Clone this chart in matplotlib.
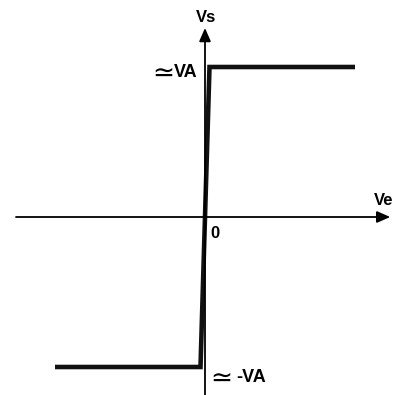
"""
Transfer characteristic Vs = f(Ve) of a comparator (saturates at about +/-VA).
"""

import matplotlib
matplotlib.use('Agg')
import matplotlib.pyplot as plt

plt.rcParams['font.family'] = ['Liberation Sans', 'DejaVu Sans']

# saturation level and characteristic points (Ve, Vs)
VA = 1.0
ve = [-1.0, -0.03, 0.03, 1.0]
vs = [-VA, -VA, VA, VA]

# axis extents
x_axis = (-1.26, 1.235)
y_axis = (-1.25, 1.26)


def main():
    fig = plt.figure(figsize=(3.95, 3.95), dpi=100)
    ax = fig.add_axes([0, 0, 1, 1])
    ax.set_xlim(-205 / 150, 190 / 150)
    ax.set_ylim(-178 / 150, 217 / 150)
    ax.axis('off')

    # --- axes with arrows ---
    arrow = dict(arrowstyle='-|>,head_length=0.8,head_width=0.35',
                 lw=1.3, color='black', shrinkA=0, shrinkB=0,
                 mutation_scale=10)
    ax.annotate('', xy=(x_axis[1], 0), xytext=(x_axis[0], 0), arrowprops=arrow)
    ax.annotate('', xy=(0, y_axis[1]), xytext=(0, y_axis[0]), arrowprops=arrow)

    # --- characteristic ---
    ax.plot(ve, vs, color='#111111', lw=3.3, solid_joinstyle='miter',
            solid_capstyle='butt')

    # --- labels ---
    ax.text(0.007, 1.30, 'Vs', fontsize=12, fontweight='bold',
            ha='center', va='baseline')
    ax.text(1.193, 0.08, 'Ve', fontsize=12, fontweight='bold',
            ha='center', va='baseline')
    ax.text(0.067, -0.14, '0', fontsize=12, fontweight='bold',
            ha='center', va='baseline')

    # upper level: "≃VA"
    ax.text(-0.047, 0.933, 'VA', fontsize=13, fontweight='bold',
            ha='right', va='baseline')
    ax.text(-0.205, 0.905, '\u2243', fontsize=19, family='DejaVu Sans',
            ha='right', va='baseline')
    # lower level: "≃ -VA"
    ax.text(0.207, -1.10, '-VA', fontsize=13, fontweight='bold',
            ha='left', va='baseline')
    ax.text(0.035, -1.128, '\u2243', fontsize=19, family='DejaVu Sans',
            ha='left', va='baseline')

    plt.savefig('out.png', dpi=100)


if __name__ == '__main__':
    main()
